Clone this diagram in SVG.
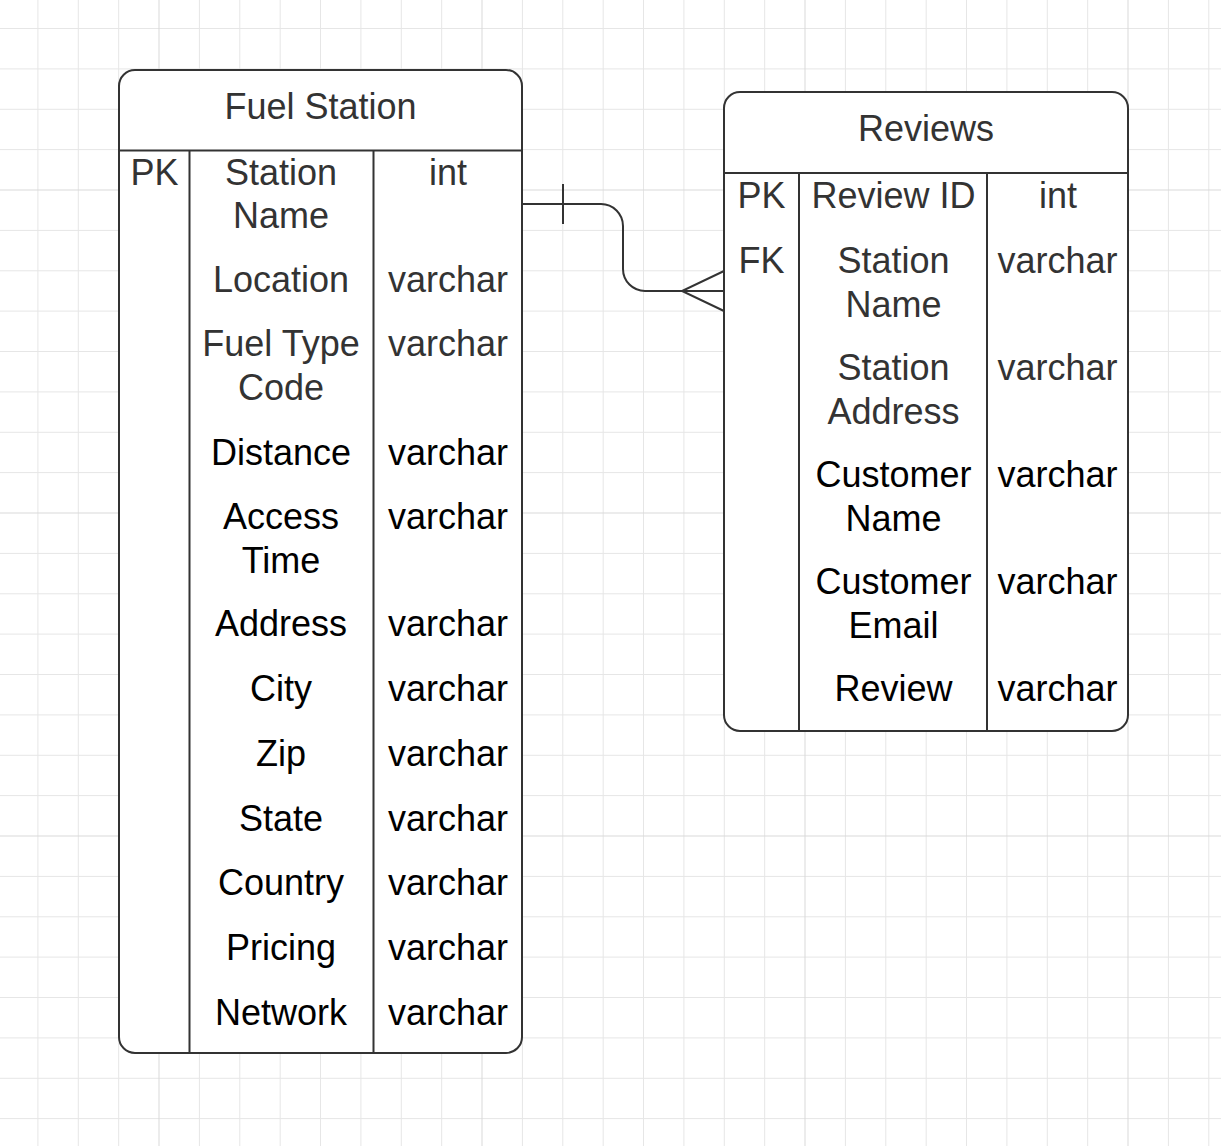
<svg xmlns="http://www.w3.org/2000/svg" width="1221" height="1146" viewBox="0 0 1221 1146">
<style>
.grid{stroke:#e6e6e6;stroke-width:1;fill:none}
.major{stroke:#d9d9d9;stroke-width:1;fill:none}
.box{fill:#fff;stroke:#333;stroke-width:2}
.div{stroke:#333;stroke-width:2;fill:none}
text{font-family:"Liberation Sans",Arial,sans-serif;font-size:36px;text-anchor:middle}
.g{fill:#333}
.k{fill:#000}
.conn{stroke:#333;stroke-width:2;fill:none}
</style>
<rect width="1221" height="1146" fill="#fff"/>
<g id="grid">
<path class="grid" d="M37.9 0V1146M78.3 0V1146M118.7 0V1146M199.4 0V1146M239.8 0V1146M280.2 0V1146M320.5 0V1146M360.9 0V1146M401.3 0V1146M441.7 0V1146M522.4 0V1146M562.8 0V1146M603.2 0V1146M643.5 0V1146M683.9 0V1146M724.3 0V1146M764.7 0V1146M845.4 0V1146M885.8 0V1146M926.2 0V1146M966.5 0V1146M1006.9 0V1146M1047.3 0V1146M1087.7 0V1146M1168.4 0V1146M1208.8 0V1146M0 28.5H1221M0 68.9H1221M0 109.3H1221M0 149.6H1221M0 230.4H1221M0 270.8H1221M0 311.1H1221M0 351.5H1221M0 391.9H1221M0 432.3H1221M0 472.6H1221M0 553.4H1221M0 593.8H1221M0 634.1H1221M0 674.5H1221M0 714.9H1221M0 755.3H1221M0 795.6H1221M0 876.4H1221M0 916.8H1221M0 957.1H1221M0 997.5H1221M0 1037.9H1221M0 1078.3H1221M0 1118.6H1221"/>
<path class="major" d="M159 0V1146M482 0V1146M805 0V1146M1128 0V1146M0 190H1221M0 513H1221M0 836H1221"/>
</g>
<g id="connectors">
<path class="conn" d="M522 204H601A22 22 0 0 1 623 226V269A22 22 0 0 0 645 291H724"/>
<path class="conn" d="M563 184V224"/>
<path class="conn" d="M724 271L682 291L724 311"/>
</g>
<g id="fuel-station">
<rect class="box" x="119" y="70" width="403" height="983" rx="16"/>
<path class="div" d="M119 150.5H522M189.5 150.5V1053M373.5 150.5V1053"/>
<text class="g" x="320.5" y="119">Fuel Station</text>
<text class="g" x="154.5" y="185">PK</text>
<text class="g" x="281" y="185">Station</text>
<text class="g" x="281" y="228">Name</text>
<text class="g" x="448" y="185">int</text>
<text class="g" x="281" y="292">Location</text>
<text class="g" x="448" y="292">varchar</text>
<text class="g" x="281" y="356">Fuel Type</text>
<text class="g" x="281" y="400">Code</text>
<text class="g" x="448" y="356">varchar</text>
<text class="k" x="281" y="465">Distance</text>
<text class="k" x="448" y="465">varchar</text>
<text class="k" x="281" y="529">Access</text>
<text class="k" x="281" y="573">Time</text>
<text class="k" x="448" y="529">varchar</text>
<text class="k" x="281" y="636">Address</text>
<text class="k" x="448" y="636">varchar</text>
<text class="k" x="281" y="701">City</text>
<text class="k" x="448" y="701">varchar</text>
<text class="k" x="281" y="766">Zip</text>
<text class="k" x="448" y="766">varchar</text>
<text class="k" x="281" y="831">State</text>
<text class="k" x="448" y="831">varchar</text>
<text class="k" x="281" y="895">Country</text>
<text class="k" x="448" y="895">varchar</text>
<text class="k" x="281" y="960">Pricing</text>
<text class="k" x="448" y="960">varchar</text>
<text class="k" x="281" y="1025">Network</text>
<text class="k" x="448" y="1025">varchar</text>
</g>
<g id="reviews">
<rect class="box" x="724" y="92" width="404" height="639" rx="16"/>
<path class="div" d="M724 173H1128M799 173V731M987 173V731"/>
<text class="g" x="926" y="141">Reviews</text>
<text class="g" x="761.5" y="208">PK</text>
<text class="g" x="893.5" y="208">Review ID</text>
<text class="g" x="1058" y="208">int</text>
<text class="g" x="761.5" y="273">FK</text>
<text class="g" x="893.5" y="273">Station</text>
<text class="g" x="893.5" y="317">Name</text>
<text class="g" x="1057.5" y="273">varchar</text>
<text class="g" x="893.5" y="380">Station</text>
<text class="g" x="893.5" y="424">Address</text>
<text class="g" x="1057.5" y="380">varchar</text>
<text class="k" x="893.5" y="487">Customer</text>
<text class="k" x="893.5" y="531">Name</text>
<text class="k" x="1057.5" y="487">varchar</text>
<text class="k" x="893.5" y="594">Customer</text>
<text class="k" x="893.5" y="638">Email</text>
<text class="k" x="1057.5" y="594">varchar</text>
<text class="k" x="893.5" y="701">Review</text>
<text class="k" x="1057.5" y="701">varchar</text>
</g>
</svg>
